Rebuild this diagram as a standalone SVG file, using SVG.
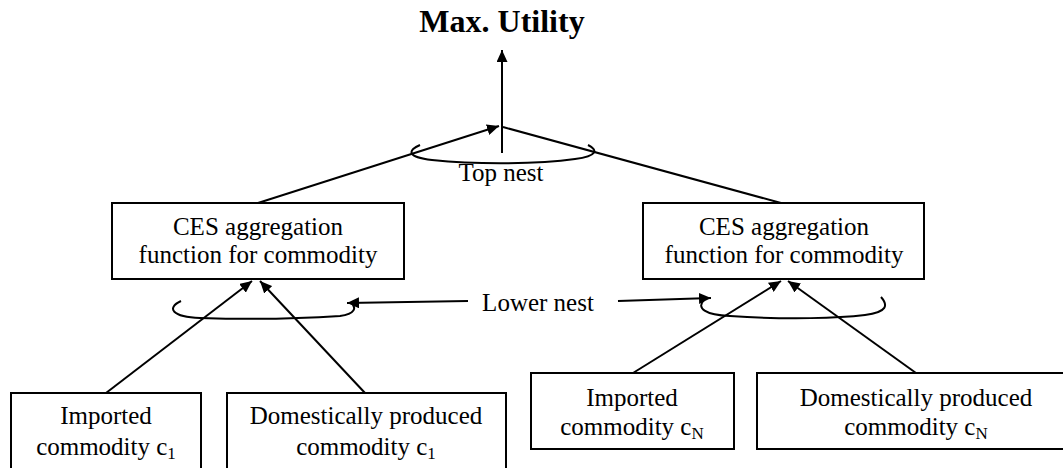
<svg xmlns="http://www.w3.org/2000/svg" width="1063" height="468" viewBox="0 0 1063 468">
<style>
.box{fill:#fff;stroke:#000;stroke-width:2}
text{font-family:'Liberation Serif','Tinos','Times New Roman','DejaVu Serif',serif}
.t{font-size:25px;fill:#000;text-anchor:middle}
.title{font-size:32px;font-weight:bold;fill:#000;text-anchor:middle}
.ln{stroke:#000;stroke-width:2;fill:none}
.sub{font-size:17px}
</style>
<defs>
<marker id="ah" markerUnits="userSpaceOnUse" markerWidth="13" markerHeight="11" refX="12" refY="5.5" orient="auto">
<path d="M0,0 L12,5.5 L0,11 z" fill="#000"/>
</marker>
</defs>
<rect width="1063" height="468" fill="#fff"/>
<g id="title"><text class="title" x="502" y="32" font-family="Liberation Serif, serif">Max. Utility</text></g>
<g id="ces-left">
<rect class="box" x="112" y="203" width="292" height="76"/>
<text class="t" x="258" y="235" font-family="Liberation Serif, serif">CES aggregation</text>
<text class="t" x="258" y="263" font-family="Liberation Serif, serif">function for commodity</text>
</g>
<g id="ces-right">
<rect class="box" x="643" y="203" width="281" height="76"/>
<text class="t" x="784" y="235" font-family="Liberation Serif, serif">CES aggregation</text>
<text class="t" x="784" y="263" font-family="Liberation Serif, serif">function for commodity</text>
</g>
<g id="imp-c1">
<rect class="box" x="11" y="393" width="190" height="90"/>
<text class="t" x="106" y="424" font-family="Liberation Serif, serif">Imported</text>
<text class="t" x="106" y="455" font-family="Liberation Serif, serif">commodity c<tspan class="sub" dy="4">1</tspan></text>
</g>
<g id="dom-c1">
<rect class="box" x="227" y="393" width="279" height="90"/>
<text class="t" x="366" y="424" font-family="Liberation Serif, serif">Domestically produced</text>
<text class="t" x="366" y="455" font-family="Liberation Serif, serif">commodity c<tspan class="sub" dy="4">1</tspan></text>
</g>
<g id="imp-cN">
<rect class="box" x="531" y="373" width="203" height="76"/>
<text class="t" x="632" y="406" font-family="Liberation Serif, serif">Imported</text>
<text class="t" x="632" y="435" font-family="Liberation Serif, serif">commodity c<tspan class="sub" dy="4">N</tspan></text>
</g>
<g id="dom-cN">
<rect class="box" x="757" y="373" width="318" height="76"/>
<text class="t" x="916" y="406" font-family="Liberation Serif, serif">Domestically produced</text>
<text class="t" x="916" y="435" font-family="Liberation Serif, serif">commodity c<tspan class="sub" dy="4">N</tspan></text>
</g>
<g id="labels">
<text class="t" x="501" y="181" font-family="Liberation Serif, serif">Top nest</text>
<text class="t" x="538" y="311" font-family="Liberation Serif, serif">Lower nest</text>
</g>
<g id="connectors">
<line class="ln" x1="502" y1="153" x2="502" y2="50" marker-end="url(#ah)"/>
<line class="ln" x1="258" y1="203" x2="499" y2="126" marker-end="url(#ah)"/>
<line class="ln" x1="503" y1="127" x2="781" y2="203"/>
<path class="ln" d="M420,145 C408,150 406,157 432,160 C480,165 540,164 575,159 C598,156 598,150 588,145"/>
<line class="ln" x1="106" y1="393" x2="252" y2="281" marker-end="url(#ah)"/>
<line class="ln" x1="365" y1="393" x2="260" y2="281" marker-end="url(#ah)"/>
<line class="ln" x1="633" y1="373" x2="781" y2="281" marker-end="url(#ah)"/>
<line class="ln" x1="916" y1="373" x2="788" y2="281" marker-end="url(#ah)"/>
<path class="ln" d="M181,301 C166,308 172,317 200,318 C260,320 310,318 340,316 C355,314 357,308 351,302"/>
<path class="ln" d="M704,300 C696,308 705,315 730,316 C790,320 840,318 865,315 C888,312 888,305 881,297"/>
<line class="ln" x1="468" y1="301" x2="347" y2="303" marker-end="url(#ah)"/>
<line class="ln" x1="618" y1="301" x2="711" y2="298" marker-end="url(#ah)"/>
</g>
</svg>
